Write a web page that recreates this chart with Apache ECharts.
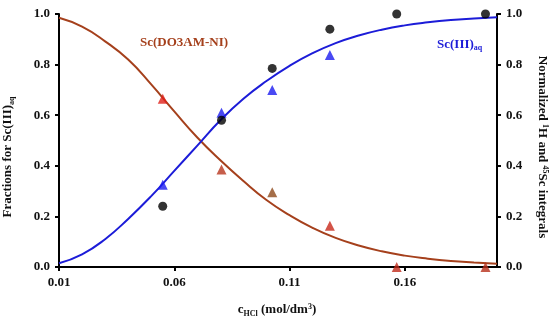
<!DOCTYPE html>
<html><head><meta charset="utf-8">
<script src="https://cdn.jsdelivr.net/npm/echarts@6/dist/echarts.min.js"></script>
<style>html,body{margin:0;padding:0;background:#fff}#c{width:550px;height:320px}</style>
</head><body><div id="c"></div>
<script>
// measurement concentrations (mol/dm3)
const xPoints = [0.055, 0.0805, 0.1025, 0.1275, 0.1565, 0.195];
const nmrCircles = [0.24, 0.58, 0.785, 0.94, 1.0, 1.0];
const scAqTriangles = [0.325, 0.61, 0.70, 0.838, null, null];
const complexTriangles = [0.665, 0.385, 0.295, 0.163, 0.0, 0.0];
const complexTriColors = ['#e0201a', '#b8361e', '#8e4a1c', '#c8281a', '#c02a1a', '#b8301a'];
// fitted curves
const curveX = [0.01,0.02,0.03,0.04,0.05,0.06,0.07,0.08,0.09,0.10,0.11,0.12,0.13,0.14,0.15,0.16,0.17,0.18,0.19,0.20];
const complexCurve = [0.985,0.95,0.892,0.82,0.722,0.615,0.512,0.422,0.34,0.265,0.205,0.155,0.115,0.085,0.062,0.045,0.033,0.024,0.018,0.013];
const scAqCurve = [0.015,0.05,0.11,0.19,0.28,0.38,0.48,0.58,0.665,0.735,0.795,0.845,0.885,0.915,0.938,0.955,0.967,0.976,0.982,0.987];
const xTicks = [0.01, 0.06, 0.11, 0.16];
const yTicks = [0, 0.2, 0.4, 0.6, 0.8, 1.0];

const FONT = '"Liberation Serif", "DejaVu Serif", serif';
const BROWN = '#a5401c';
const BLUE = '#1c1cd8';

const chart = echarts.init(document.getElementById('c'));
const zip = (xs, ys) => xs.map((x, i) => [x, ys[i]]);
const tickLab = {fontFamily: FONT, fontWeight: 'bold', fontSize: 13, color: '#111'};
const axisLine = {show: true, lineStyle: {color: '#000', width: 2}};

chart.setOption({
  animation: false,
  grid: {left: 59, right: 53, top: 14, bottom: 53},
  xAxis: {
    type: 'value', min: 0.01, max: 0.2,
    axisLine: axisLine,
    axisTick: {show: true, customValues: xTicks, length: 4, lineStyle: {color: '#000', width: 2}},
    axisLabel: Object.assign({customValues: xTicks, margin: 9, formatter: v => v.toFixed(2)}, tickLab),
    splitLine: {show: false}
  },
  yAxis: [
    {type: 'value', min: 0, max: 1, interval: 0.2, position: 'left',
     axisLine: axisLine,
     axisTick: {show: true, length: 4, lineStyle: {color: '#000', width: 2}},
     axisLabel: Object.assign({margin: 9, formatter: v => v.toFixed(1)}, tickLab),
     splitLine: {show: false}},
    {type: 'value', min: 0, max: 1, interval: 0.2, position: 'right',
     axisLine: axisLine,
     axisTick: {show: true, length: 4, lineStyle: {color: '#000', width: 2}},
     axisLabel: Object.assign({margin: 9, formatter: v => v.toFixed(1)}, tickLab),
     splitLine: {show: false}}
  ],
  series: [
    {type: 'line', name: 'Sc(DO3AM-NI) fit', data: zip(curveX, complexCurve), smooth: true, showSymbol: false,
     lineStyle: {color: BROWN, width: 2}, z: 2},
    {type: 'line', name: 'Sc(III)aq fit', data: zip(curveX, scAqCurve), smooth: true, showSymbol: false,
     lineStyle: {color: BLUE, width: 2}, z: 2},
    {type: 'scatter', name: 'NMR', data: zip(xPoints, nmrCircles), symbol: 'circle', symbolSize: 9,
     itemStyle: {color: '#000'}, z: 5},
    {type: 'scatter', name: 'Sc(III)aq', data: zip(xPoints, scAqTriangles).filter(d => d[1] !== null), symbol: 'triangle', symbolSize: 10,
     itemStyle: {color: '#1c1cf0'}, z: 4},
    {type: 'scatter', name: 'Sc(DO3AM-NI)', yAxisIndex: 1,
     data: zip(xPoints, complexTriangles).map((d, i) => ({value: d, itemStyle: {color: complexTriColors[i]}})),
     symbol: 'triangle', symbolSize: 10, z: 4}
  ],
  graphic: [
    {type: 'text', left: 140, top: 36, style: {text: 'Sc(DO3AM-NI)', fill: BROWN, font: 'bold 13px ' + FONT}},
    {type: 'text', x: 437, y: 37, style: {
      text: '{a|Sc(III)}{s|aq}', fill: BLUE,
      rich: {a: {fontFamily: FONT, fontWeight: 'bold', fontSize: 13, fill: BLUE},
             s: {fontFamily: FONT, fontWeight: 'bold', fontSize: 8, fill: BLUE, padding: [7, 0, 0, 0]}}}},
    {type: 'text', x: 8, y: 157, rotation: Math.PI / 2, style: {
      text: '{a|Fractions for Sc(III)}{s|aq}', align: 'center', verticalAlign: 'middle',
      rich: {a: {fontFamily: FONT, fontWeight: 'bold', fontSize: 13, fill: '#111'},
             s: {fontFamily: FONT, fontWeight: 'bold', fontSize: 8, fill: '#111', padding: [7, 0, 0, 0]}}}},
    {type: 'text', x: 542, y: 147, rotation: -Math.PI / 2, style: {
      text: '{a|Normalized }{p|1}{a|H and }{p|45}{a|Sc integrals}', align: 'center', verticalAlign: 'middle',
      rich: {a: {fontFamily: FONT, fontWeight: 'bold', fontSize: 13, fill: '#111'},
             p: {fontFamily: FONT, fontWeight: 'bold', fontSize: 8, fill: '#111', padding: [0, 0, 7, 0]}}}},
    {type: 'text', x: 277, y: 310, style: {
      text: '{a|c}{s|HCl}{a| (mol/dm}{p|3}{a|)}', align: 'center', verticalAlign: 'middle',
      rich: {a: {fontFamily: FONT, fontWeight: 'bold', fontSize: 13, fill: '#111'},
             s: {fontFamily: FONT, fontWeight: 'bold', fontSize: 8, fill: '#111', padding: [7, 0, 0, 0]},
             p: {fontFamily: FONT, fontWeight: 'bold', fontSize: 8, fill: '#111', padding: [0, 0, 7, 0]}}}}
  ]
});
</script></body></html>
